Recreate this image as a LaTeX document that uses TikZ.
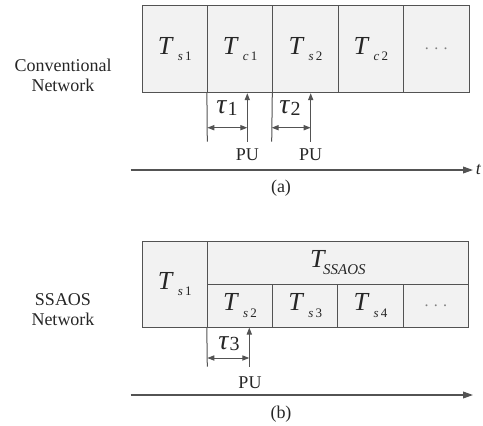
\documentclass[tikz,border=0pt]{standalone}
\usepackage{fontspec}
\setmainfont{Liberation Serif}
\usetikzlibrary{arrows.meta}
\newcommand{\Tslot}[2]{\textit{T}\kern2pt\raisebox{-3.2pt}{\fontsize{6.5}{6.5}\selectfont\textit{#1}\,#2}}
\newcommand{\Tlong}[1]{\textit{T}\kern-1.5pt\raisebox{-3.6pt}{\fontsize{7.5}{7.5}\selectfont\textit{#1}}}
\newcommand{\tauv}[1]{{\fontsize{14}{14}\selectfont\textit{τ}}\kern0.3pt\raisebox{-0.6pt}{#1}}

\begin{document}
\begin{tikzpicture}[
  x=0.5pt, y=-0.5pt,
  slot/.style={draw=gray!65!black, fill=gray!10, line width=0.5pt, minimum width=32.7pt, minimum height=43.7pt, inner sep=0pt, font=\fontsize{13}{13}\selectfont, text=black!85},
  wide/.style={slot, minimum width=130.6pt, minimum height=21.4pt},
  half/.style={slot, minimum height=21.4pt},
  tall/.style={slot, minimum height=42.8pt},
  lbl/.style={font=\fontsize{9}{10}\selectfont, align=center, text=black!85},
  taulbl/.style={font=\fontsize{10}{10}\selectfont, text=black!85},
  tick/.style={gray!65!black, line width=0.5pt},
  pu/.style={-{Triangle[length=3.5pt,width=2.6pt]}, gray!65!black, line width=0.5pt},
  span/.style={{Triangle[length=3.5pt,width=2.6pt]}-{Triangle[length=3.5pt,width=2.6pt]}, gray!65!black, line width=0.5pt},
  axis/.style={-{Triangle[length=5pt,width=3.4pt]}, gray!65!black, line width=0.6pt}
]
\useasboundingbox (0,0) rectangle (483,425);

% (a) conventional network
\node[lbl] (convlbl) at (63,75) {Conventional\\Network};
\node[slot] (aTs1) at (174.7,49) {\Tslot{s}{1}};
\node[slot] (aTc1) at (240.1,49) {\Tslot{c}{1}};
\node[slot] (aTs2) at (305.5,49) {\Tslot{s}{2}};
\node[slot] (aTc2) at (370.9,49) {\Tslot{c}{2}};
\node[slot] (adots) at (436.3,49) {\fontsize{8}{8}\selectfont\color{gray}.\,\,.\,\,.};

\coordinate (atick1) at (207.3,141.7);
\coordinate (apu1) at (247.3,141.7);
\coordinate (atick2) at (271.7,141.7);
\coordinate (apu2) at (310.7,141.7);
\draw[tick] (aTc1.south west) -- (atick1);
\draw[tick] (aTs2.south west) -- (atick2);
\draw[pu] (apu1) -- (apu1 |- aTc1.south);
\draw[pu] (apu2) -- (apu2 |- aTs2.south);
\draw[span] (atick1 |- 0,127.7) -- (apu1 |- 0,127.7);
\draw[span] (atick2 |- 0,127.7) -- (apu2 |- 0,127.7);
\node[taulbl] (atau1) at (227,108) {\tauv{1}};
\node[taulbl] (atau2) at (290,108) {\tauv{2}};
\node[lbl] (apulbl1) at (247.3,155) {PU};
\node[lbl] (apulbl2) at (310.7,155) {PU};

\coordinate (aaxis0) at (130.7,170);
\coordinate (aaxis1) at (473,170);
\draw[axis] (aaxis0) -- (aaxis1);
\node[lbl] (atlbl) at (478.5,170) {\textit{t}};
\node[lbl] (acap) at (281,188) {(a)};

% (b) SSAOS network
\node[lbl] (ssaoslbl) at (63,310) {SSAOS\\Network};
\node[tall] (bTs1) at (174.7,284.3) {\Tslot{s}{1}};
\node[wide] (bTss) at (337.9,262.7) {\Tlong{SSAOS}};
\node[half] (bTs2) at (240,305.7) {\Tslot{s}{2}};
\node[half] (bTs3) at (305.3,305.7) {\Tslot{s}{3}};
\node[half] (bTs4) at (370.6,305.7) {\Tslot{s}{4}};
\node[half] (bdots) at (435.9,305.7) {\fontsize{8}{8}\selectfont\color{gray}.\,\,.\,\,.};

\coordinate (btick3) at (207.3,366.7);
\coordinate (bpu3) at (249.3,366.7);
\draw[tick] (bTs2.south west) -- (btick3);
\draw[pu] (bpu3) -- (bpu3 |- bTs2.south);
\draw[span] (btick3 |- 0,358) -- (bpu3 |- 0,358);
\node[taulbl] (btau3) at (229,344) {\tauv{3}};
\node[lbl] (bpulbl3) at (250,383) {PU};

\coordinate (baxis0) at (130.7,395);
\coordinate (baxis1) at (473,395);
\draw[axis] (baxis0) -- (baxis1);
\node[lbl] (bcap) at (281,414) {(b)};
\end{tikzpicture}
\end{document}
